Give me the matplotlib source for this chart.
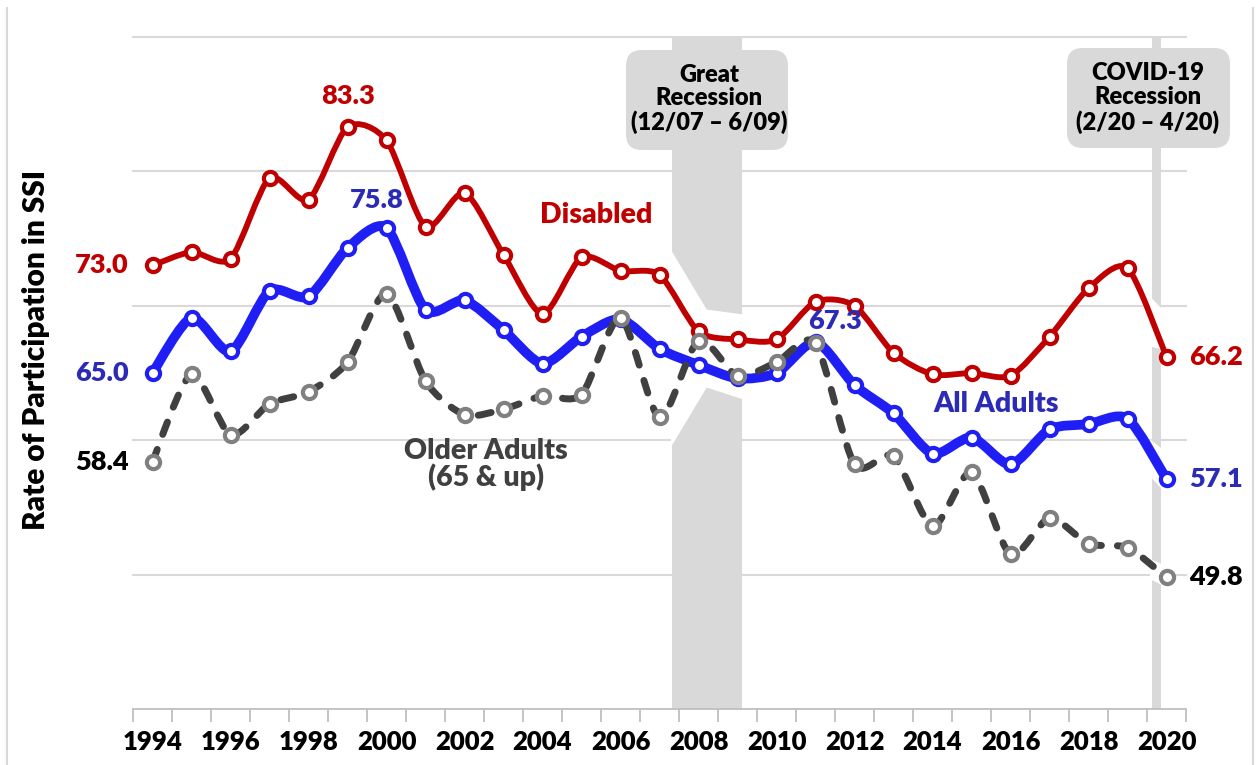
import numpy as np
import matplotlib
matplotlib.use("Agg")
import matplotlib.pyplot as plt
from matplotlib.path import Path
from matplotlib.patches import PathPatch, FancyBboxPatch, Polygon
from matplotlib.lines import Line2D

# ---------------- data ----------------
years = list(range(1994, 2021))
disabled = [73.0, 74.0, 73.5, 79.5, 77.9, 83.3, 82.3, 75.9, 78.4, 73.8, 69.4, 73.6, 72.6, 72.3,
            68.1, 67.5, 67.5, 70.3, 70.0, 66.5, 64.9, 65.0, 64.8, 67.7, 71.3, 72.8, 66.2]
all_adults = [65.0, 69.1, 66.6, 71.1, 70.7, 74.3, 75.8, 69.7, 70.4, 68.2, 65.7, 67.7, 69.0, 66.8,
              65.6, 64.6, 65.0, 67.3, 64.1, 62.0, 59.0, 60.2, 58.2, 60.8, 61.2, 61.6, 57.1]
older = [58.4, 64.9, 60.4, 62.7, 63.6, 65.8, 70.9, 64.4, 61.9, 62.3, 63.3, 63.4, 69.1, 61.7,
         67.4, 64.8, 65.8, 67.2, 58.2, 58.8, 53.6, 57.6, 51.5, 54.2, 52.3, 52.0, 49.8]
tick_years = list(range(1994, 2021, 2))
great_recession = (2007.31, 2009.12)
covid_recession = (2019.62, 2019.87)

FONT = "Lato"
WEIGHT = "heavy"
RED = "#C00000"
BLUE_LINE = "#1F1FF5"
BLUE_TXT = "#2B2BB5"
GRAY_LINE = "#404040"
GRAY_MK = "#808080"
BAND = "#D9D9D9"

W, H = 1258, 765
fig = plt.figure(figsize=(W / 100, H / 100), dpi=100)
ax = fig.add_axes([133 / W, 1 - 709 / H, (1186 - 133) / W, (709 - 37) / H])
ax.set_xlim(1993.5, 2020.5)
ax.set_ylim(40, 90)


def smooth_path(x, y, t=0.13):
    pts = np.column_stack([x, y]).astype(float)
    n = len(pts)
    verts = [pts[0]]
    codes = [Path.MOVETO]
    for i in range(n - 1):
        p0 = pts[i - 1] if i > 0 else pts[i]
        p1 = pts[i]
        p2 = pts[i + 1]
        p3 = pts[i + 2] if i + 2 < n else pts[i + 1]
        c1 = p1 + (p2 - p0) * t
        c2 = p2 - (p3 - p1) * t
        verts += [c1, c2, p2]
        codes += [Path.CURVE4] * 3
    return Path(verts, codes)


# grid
ax.set_yticks([50, 60, 70, 80, 90])
ax.yaxis.grid(True, color="#D9D9D9", lw=1.5, zorder=0)
for gl in ax.get_ygridlines():
    gl.set_clip_on(False)
ax.tick_params(axis="y", length=0, labelleft=False)
ax.set_axisbelow(True)
for s in ["left", "right", "top"]:
    ax.spines[s].set_visible(False)
ax.spines["bottom"].set_color("#BFBFBF")
ax.spines["bottom"].set_linewidth(1.3)

ax.set_xticks(tick_years)
ax.set_xticklabels([str(y) for y in tick_years], fontfamily=FONT, fontweight=WEIGHT, fontsize=18.5)
ax.set_xticks(np.arange(1993.5, 2021, 1.0), minor=True)
ax.tick_params(axis="x", which="major", length=0, pad=15)
ax.tick_params(axis="x", which="minor", length=9, color="#BFBFBF", width=1.3)

# recession bands
ax.axvspan(*great_recession, color=BAND, lw=0, zorder=1)
ax.axvspan(*covid_recession, color=BAND, lw=0, zorder=1)

# white cut-outs in bands
gaps = [
    [(2007.29, 74.18), (2008.21, 69.72), (2009.15, 69.35), (2009.15, 63.03), (2008.21, 63.92), (2007.29, 59.47)],
    [(2019.58, 70.68), (2019.9, 69.72), (2019.9, 66.75), (2019.58, 66.97)],
    [(2019.58, 60.06), (2019.9, 59.32), (2019.9, 56.3), (2019.58, 57.31)],
    [(2019.58, 51.14), (2019.9, 50.77), (2019.9, 49.2), (2019.58, 49.66)],
]
for g in gaps:
    ax.add_patch(Polygon(g, closed=True, fc="white", ec="none", zorder=1.5))

# series
MS, MEW = 9.5, 3.0
ax.add_patch(PathPatch(smooth_path(years, all_adults), fill=False, ec=BLUE_LINE, lw=7.0,
                       capstyle="round", joinstyle="round", zorder=3))
ax.plot(years, all_adults, "o", ms=MS, mfc="white", mec=BLUE_LINE, mew=MEW, zorder=4)

ax.add_patch(PathPatch(smooth_path(years, disabled), fill=False, ec=RED, lw=4.2,
                       capstyle="round", joinstyle="round", zorder=5))
ax.plot(years, disabled, "o", ms=MS, mfc="white", mec=RED, mew=MEW, zorder=6)

ax.add_patch(PathPatch(smooth_path(years, older), fill=False, ec=GRAY_LINE, lw=5.0,
                       linestyle=(0, (1.9, 2.3)), capstyle="round", joinstyle="round", zorder=7))
ax.plot(years, older, "o", ms=MS, mfc="white", mec=GRAY_MK, mew=MEW, zorder=8)

# value labels
vfs = 19.5
kw = dict(fontfamily=FONT, fontweight=WEIGHT, fontsize=vfs, clip_on=False, va="center", zorder=10)
ax.text(1993.38, disabled[0], f"{disabled[0]:.1f}", color=RED, ha="right", **kw)
ax.text(1993.38, all_adults[0], f"{all_adults[0]:.1f}", color=BLUE_TXT, ha="right", **kw)
ax.text(1993.38, older[0], f"{older[0]:.1f}", color="black", ha="right", **kw)
ax.text(2020.58, disabled[-1], f"{disabled[-1]:.1f}", color=RED, ha="left", **kw)
ax.text(2020.58, all_adults[-1], f"{all_adults[-1]:.1f}", color=BLUE_TXT, ha="left", **kw)
ax.text(2020.58, older[-1], f"{older[-1]:.1f}", color="black", ha="left", **kw)
ax.text(1999.0, 85.6, "83.3", color=RED, ha="center", **kw)
ax.text(1999.74, 77.9, "75.8", color=BLUE_TXT, ha="center", **kw)
ax.text(2011.5, 68.85, "67.3", color=BLUE_TXT, ha="center", **kw)

# series labels
skw = dict(fontfamily=FONT, fontweight=WEIGHT, fontsize=20.5, ha="center", va="center", zorder=10)
ax.text(2005.38, 76.78, "Disabled", color=RED, **skw)
ax.text(2015.63, 62.66, "All Adults", color=BLUE_TXT, **skw)
ax.text(2002.55, 58.2, "Older Adults\n(65 & up)", color=GRAY_LINE, linespacing=0.95, **skw)

# recession boxes
asp = W / H
for (x0, y0, x1, y1) in [(626, 50, 788, 150), (1067, 48, 1230, 148)]:
    fig.add_artist(FancyBboxPatch((x0 / W, 1 - y1 / H), (x1 - x0) / W, (y1 - y0) / H,
                                  boxstyle="round,pad=0,rounding_size=0.0125",
                                  mutation_aspect=asp, transform=fig.transFigure,
                                  fc=BAND, ec="none", zorder=5))
bkw = dict(fontfamily=FONT, fontweight=WEIGHT, fontsize=17, ha="center", va="center",
           color="black", zorder=6)
for txt, yy in [("Great", 75), ("Recession", 98), ("(12/07 \u2013 6/09)", 122)]:
    fig.text(709 / W, 1 - yy / H, txt, **bkw)
for txt, yy in [("COVID-19", 73), ("Recession", 97), ("(2/20 \u2013 4/20)", 122)]:
    fig.text(1148 / W, 1 - yy / H, txt, **bkw)

# y label
fig.text(36 / W, 1 - 350 / H, "Rate of Participation in SSI", rotation=90, ha="center", va="center",
         fontfamily=FONT, fontweight=WEIGHT, fontsize=21.5, color="black")

# frame lines
for xp in (7, 1253):
    fig.add_artist(Line2D([xp / W, xp / W], [0, 1 - 8 / H], transform=fig.transFigure,
                          color="#D9D9D9", lw=1.5))

fig.savefig("out.png", dpi=100)
